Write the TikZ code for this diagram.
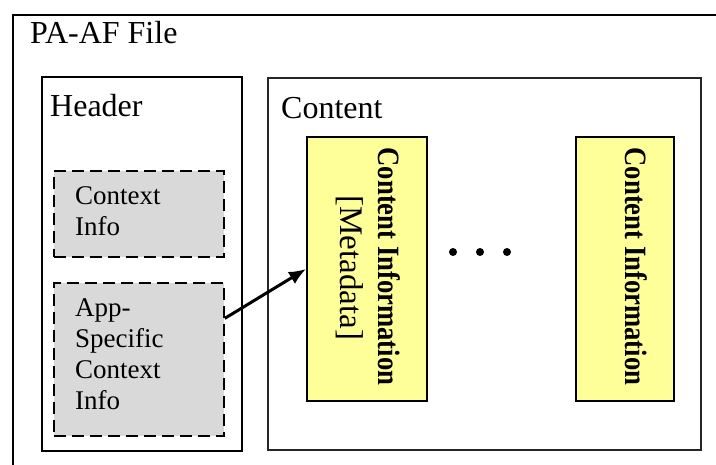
\documentclass[tikz,border=0pt]{standalone}
\usepackage{fontspec}
\setmainfont{Liberation Serif}
\usetikzlibrary{arrows.meta,calc}
\definecolor{boxgray}{RGB}{217,217,217}
\definecolor{infoyellow}{RGB}{255,255,153}
\tikzset{
  frame/.style={draw=black, line width=1.5pt, inner sep=0pt, anchor=north west},
  dashbox/.style={draw=black, fill=boxgray, line width=1.8pt, dash pattern=on 12pt off 6pt, inner sep=0pt, anchor=north west},
  yellowbox/.style={draw=black, fill=infoyellow, line width=2pt, inner sep=0pt, anchor=north west},
  title/.style={font=\fontsize{32}{36}\selectfont, inner sep=0pt, anchor=base west},
  smalltext/.style={font=\fontsize{27}{31}\selectfont, inner sep=0pt, anchor=north west, align=left},
  vtitle/.style={font=\fontsize{31}{36}\selectfont\bfseries, inner sep=0pt, anchor=base, rotate=-90},
  vsub/.style={font=\fontsize{33}{36}\selectfont, inner sep=0pt, anchor=base, rotate=-90},
  dot/.style={circle, fill=black, inner sep=0pt, minimum size=8pt},
  link/.style={line width=3pt, -{Latex[length=17pt,width=14pt]}}
}
\begin{document}
\begin{tikzpicture}[x=1pt,y=-1pt]
\useasboundingbox (0,0) rectangle (716,464);
\clip (0,0) rectangle (716,464);
% outer file box (extends beyond the picture at right and bottom)
\node[frame, minimum width=720pt, minimum height=470pt] (file) at (12,14) {};
\node[title] (filet) at (30,43) {PA-AF File};
% header
\node[frame, minimum width=200pt, minimum height=374pt] (header) at (41,76) {};
\node[title] (headert) at (50,116) {Header};
\node[dashbox, minimum width=170pt, minimum height=86pt] (ctx) at (53,170) {};
\node[smalltext] (ctxt) at (75,182.3) {\strut Context\\Info};
\node[dashbox, minimum width=170pt, minimum height=153pt] (app) at (53,282) {};
\node[smalltext] (appt) at (75,294.3) {\strut App-\\Specific\\Context\\Info};
% content
\node[frame, draw=black!85, line width=1.8pt, minimum width=433pt, minimum height=372pt] (content) at (267,77) {};
\node[title] (contentt) at (281,118) {Content};
\node[yellowbox, minimum width=120pt, minimum height=264pt] (ci1) at (306,136) {};
\node[vtitle] (ci1t) at (378,266.5) {\scalebox{0.86}[1]{Content Information}};
\node[vsub] (ci1m) at (340,268) {[Metadata]};
\node[yellowbox, minimum width=98pt, minimum height=264pt] (ci2) at (575,136) {};
\node[vtitle] (ci2t) at (625,266.5) {\scalebox{0.86}[1]{Content Information}};
% dots
\node[dot] (d1) at (453,252) {};
\node[dot] (d2) at (480,252) {};
\node[dot] (d3) at (507,252) {};
% arrow
\draw[link] ($(app.north east)!0.235!(app.south east)$) -- (ci1.west);
\end{tikzpicture}
\end{document}
